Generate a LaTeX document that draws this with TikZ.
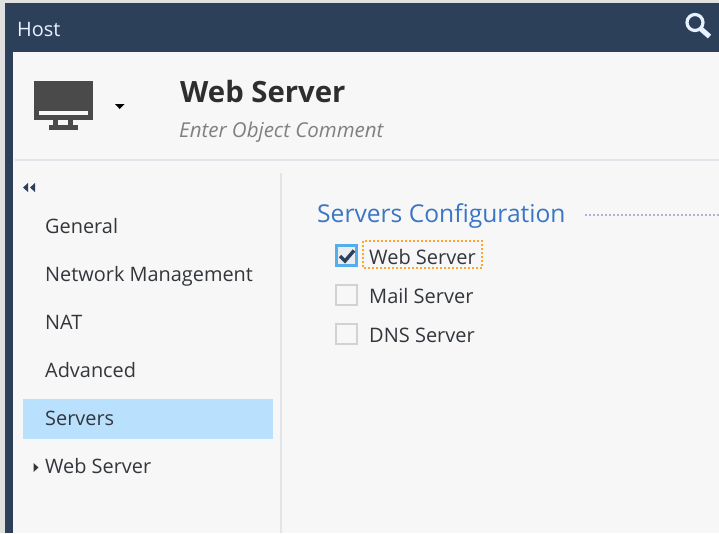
\documentclass[tikz,border=0pt]{standalone}
\usepackage{fontspec}
\setmainfont{Open Sans}
\definecolor{navy}{HTML}{2D4059}
\definecolor{panel}{HTML}{F7F7F7}
\definecolor{rulec}{HTML}{E1E4E8}
\definecolor{ink}{HTML}{33363B}
\definecolor{icon}{HTML}{4A4A4A}
\definecolor{sel}{HTML}{B9E1FD}
\definecolor{head}{HTML}{3A76C4}
\definecolor{boxc}{HTML}{D2D2D2}
\definecolor{focus}{HTML}{FFA726}
\definecolor{checkb}{HTML}{55AEEA}
\definecolor{dots}{HTML}{B4B2D4}
\definecolor{pale}{HTML}{E8F2FF}
\tikzset{
  x=1pt,y=-1pt,
  lbl/.style={anchor=base west,inner sep=0pt,text=ink,font=\fontsize{19.9}{24}\selectfont},
  cb/.style={draw=boxc,line width=2.2pt,fill=panel},
}
\begin{document}
\begin{tikzpicture}
\useasboundingbox (0,0) rectangle (719,533);
\fill[white] (0,0) rectangle (719,533);
\fill[black!12] (0,0) rectangle (719,3);
\fill[black!12] (0,0) rectangle (5,533);
\fill[navy] (5,3) rectangle (719,533);
\fill[panel] (13,52) rectangle (719,533);
\draw[rulec,line width=2pt] (15,160) -- (719,160);
\draw[rulec,line width=2pt] (281,173) -- (281,533);
% title bar
\node[lbl,text=pale] (host) at (17,36) {Host};
\draw[pale,line width=3.2pt] (695,22.5) circle (8);
\draw[pale,line width=5pt] (701,29) -- (709.5,36.5);
% monitor icon
\fill[icon] (34,81) rectangle (93,120);
\fill[panel] (39,110.5) rectangle (88,115);
\fill[icon] (53,120) rectangle (73,125);
\fill[panel] (58,120) rectangle (68,125);
\fill[icon] (48.5,125) rectangle (78,130);
\fill[black] (115,104) -- (124.5,104) -- (119.7,109) -- cycle;
% heading
\node[lbl,text=black!82,font=\fontsize{29.3}{36}\selectfont\bfseries] (title) at (180,102) {Web Server};
\node[lbl,text=black!50,font=\fontsize{20.5}{24}\selectfont\itshape] (comment) at (179,137) {Enter Object Comment};
% collapse arrows
\fill[navy] (23,187.5) -- (28,183) -- (28,192) -- cycle;
\fill[navy] (30,187.5) -- (35,183) -- (35,192) -- cycle;
% sidebar
\fill[sel] (23,399) rectangle (273,439);
\node[lbl] (general) at (45,233) {General};
\node[lbl] (netman) at (45,281) {Network Management};
\node[lbl] (nat) at (45,329) {NAT};
\node[lbl] (adv) at (45,377) {Advanced};
\node[lbl] (srv) at (45,425) {Servers};
\node[lbl] (ws) at (45,473) {Web Server};
\fill[ink] (33.5,463) -- (38.5,467.5) -- (33.5,472) -- cycle;
% right panel
\node[lbl,text=head,font=\fontsize{24.6}{28}\selectfont] (cfg) at (317,222) {Servers Configuration};
\draw[dots,line width=2pt,dash pattern=on 2pt off 2pt] (585,214.5) -- (719,214.5);
% checks
\draw[checkb,line width=2.6pt,fill=rulec!70!white] (336.3,245.3) rectangle (356.7,265.7);
\draw[navy,line width=3.4pt] (340,256) -- (345,261) -- (354,250.5);
\draw[focus,line width=2pt,dash pattern=on 2pt off 2pt] (363,241) rectangle (482,268);
\node[lbl,font=\fontsize{20}{24}\selectfont] (c1) at (369,264) {Web Server};
\draw[cb] (336.3,285) rectangle (357,305);
\node[lbl,font=\fontsize{20}{24}\selectfont] (c2) at (369,303) {Mail Server};
\draw[cb] (336.3,324) rectangle (357,344);
\node[lbl,font=\fontsize{20}{24}\selectfont] (c3) at (369,342) {DNS Server};
\end{tikzpicture}
\end{document}
